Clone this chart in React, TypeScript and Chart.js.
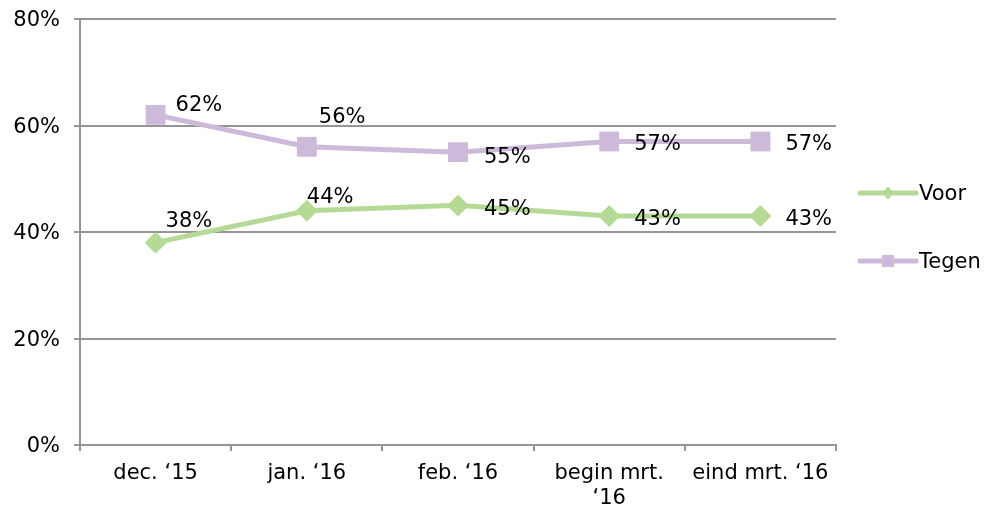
import { useEffect, useRef } from 'react';
import { Chart, registerables } from 'chart.js';

Chart.register(...registerables);

const categories: (string | string[])[] = ['dec. ‘15', 'jan. ‘16', 'feb. ‘16', ['begin mrt.', '‘16'], 'eind mrt. ‘16'];
const voor = [38, 44, 45, 43, 43];
const tegen = [62, 56, 55, 57, 57];
const seriesNames = ['Voor', 'Tegen'];
const yMin = 0;
const yMax = 80;
const yStep = 20;

const GREEN = 'rgb(181,218,150)';
const PURPLE = 'rgb(205,185,218)';
const GRID = '#959595';
const FONT = '"DejaVu Sans", Verdana, sans-serif';
const FS = 21;

// label offsets (dx, dy) relative to each point, per dataset
const labelOffsets = [
  [[10, -21], [0, -13], [26, 4], [25, 4], [25, 4]],
  [[20, -9], [12, -29], [26, 5], [25, 3], [25, 3]],
];

function drawMarker(ctx: CanvasRenderingContext2D, kind: string, x: number, y: number, r: number) {
  ctx.beginPath();
  if (kind === 'diamond') {
    ctx.moveTo(x - r, y);
    ctx.lineTo(x, y - r * 1.1);
    ctx.lineTo(x + r, y);
    ctx.lineTo(x, y + r * 1.1);
    ctx.closePath();
  } else {
    ctx.rect(x - r, y - r, 2 * r, 2 * r);
  }
  ctx.fill();
}

const labelPlugin = {
  id: 'valueLabels',
  afterDatasetsDraw(chart: any) {
    const ctx = chart.ctx as CanvasRenderingContext2D;
    ctx.save();
    ctx.font = `${FS}px ${FONT}`;
    ctx.fillStyle = '#000';
    ctx.textAlign = 'left';
    ctx.textBaseline = 'middle';
    chart.data.datasets.forEach((ds: any, di: number) => {
      const meta = chart.getDatasetMeta(di);
      meta.data.forEach((pt: any, i: number) => {
        const [dx, dy] = labelOffsets[di][i];
        ctx.fillText(`${ds.data[i]}%`, pt.x + dx, pt.y + dy);
      });
    });
    ctx.restore();
  },
};

const legendPlugin = {
  id: 'sideLegend',
  afterDraw(chart: any) {
    const ctx = chart.ctx as CanvasRenderingContext2D;
    const area = chart.chartArea;
    const x0 = area.right + 24;
    const ys = [area.top + 174, area.top + 242];
    const kinds = ['diamond', 'square'];
    ctx.save();
    chart.data.datasets.forEach((ds: any, di: number) => {
      const y = ys[di];
      ctx.strokeStyle = ds.borderColor;
      ctx.fillStyle = ds.borderColor;
      ctx.lineWidth = 5;
      ctx.lineCap = 'round';
      ctx.beginPath();
      ctx.moveTo(x0, y);
      ctx.lineTo(x0 + 56, y);
      ctx.stroke();
      drawMarker(ctx, kinds[di], x0 + 28, y, 6);
      ctx.fillStyle = '#000';
      ctx.font = `${FS}px ${FONT}`;
      ctx.textAlign = 'left';
      ctx.textBaseline = 'middle';
      ctx.fillText(ds.label, x0 + 59, y + 2);
    });
    ctx.restore();
  },
};

export default function App() {
  const ref = useRef<HTMLCanvasElement>(null);
  useEffect(() => {
    document.body.style.margin = '0';
    const chart = new Chart(ref.current!, {
      type: 'line',
      data: {
        labels: categories as any,
        datasets: [
          {
            label: seriesNames[0],
            data: voor,
            borderColor: GREEN,
            backgroundColor: GREEN,
            borderWidth: 5,
            pointStyle: 'rectRot',
            pointRadius: 11,
            pointHoverRadius: 11,
            pointBorderWidth: 0,
            tension: 0,
          },
          {
            label: seriesNames[1],
            data: tegen,
            borderColor: PURPLE,
            backgroundColor: PURPLE,
            borderWidth: 5,
            pointStyle: 'rect',
            pointRadius: 14,
            pointHoverRadius: 14,
            pointBorderWidth: 0,
            tension: 0,
          },
        ],
      },
      options: {
        responsive: false,
        animation: false,
        events: [],
        layout: { padding: { top: 19, right: 150, left: 0, bottom: 0 } },
        plugins: {
          legend: { display: false },
          tooltip: { enabled: false },
        },
        scales: {
          x: {
            offset: true,
            afterFit(scale: any) {
              scale.height = 66;
            },
            grid: {
              offset: true,
              drawOnChartArea: false,
              drawTicks: true,
              tickLength: 6,
              color: GRID,
              lineWidth: 2,
            },
            border: { color: GRID, width: 2 },
            ticks: {
              color: '#000',
              font: { family: FONT, size: FS },
              padding: 10,
              maxRotation: 0,
              autoSkip: false,
            },
          },
          y: {
            min: yMin,
            max: yMax,
            afterFit(scale: any) {
              scale.width = 80;
            },
            grid: {
              color: GRID,
              lineWidth: 2,
              tickLength: 6,
            },
            border: { color: GRID, width: 2 },
            ticks: {
              stepSize: yStep,
              color: '#000',
              font: { family: FONT, size: FS, lineHeight: 0.4 },
              padding: 14,
              labelOffset: 2,
              callback: (v: any) => `${v}%`,
            },
          },
        },
      },
      plugins: [labelPlugin, legendPlugin],
    });
    return () => chart.destroy();
  }, []);
  return (
    <div style={{ position: 'absolute', left: 0, top: 0, width: 986, height: 511 }}>
      <canvas ref={ref} width={986} height={511} style={{ display: 'block' }} />
    </div>
  );
}
